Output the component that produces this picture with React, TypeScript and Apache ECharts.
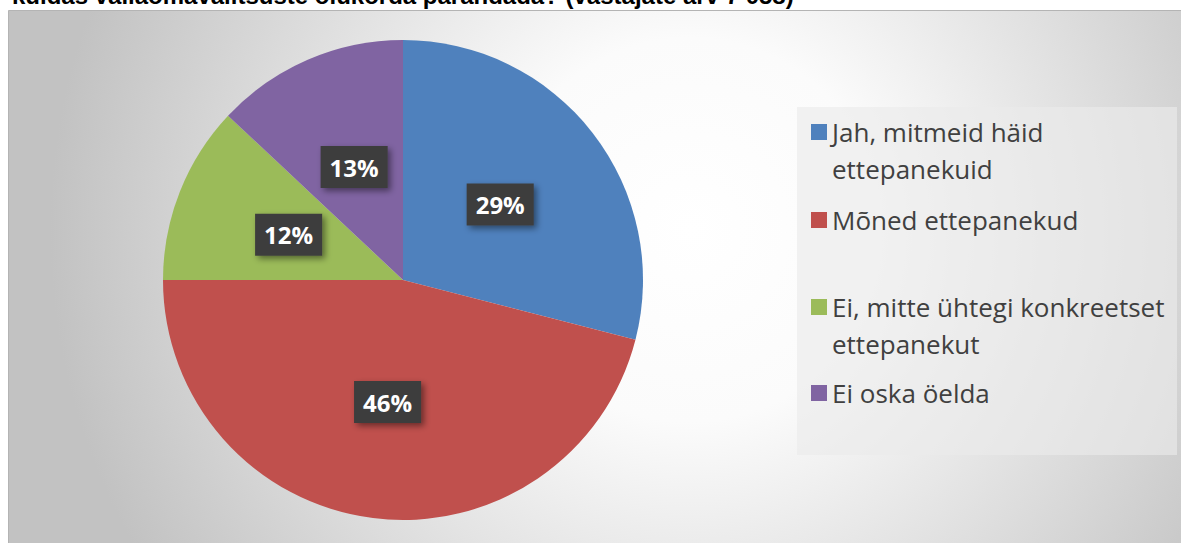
import React, { useEffect, useRef } from "react";
import * as echarts from "echarts";

const titleText = "kuidas vallaomavalitsuste olukorda parandada? (vastajate arv 7 058)";
const categories = [
  "Jah, mitmeid häid ettepanekuid",
  "Mõned ettepanekud",
  "Ei, mitte ühtegi konkreetset ettepanekut",
  "Ei oska öelda",
];
const legendLabels = [
  "Jah, mitmeid häid\nettepanekuid",
  "Mõned ettepanekud",
  "Ei, mitte ühtegi konkreetset\nettepanekut",
  "Ei oska öelda",
];
const values = [29, 46, 12, 13];
const colors = ["#4f81bd", "#c0504d", "#9bbb59", "#8064a2"];

const LINE_H = 37;
const markerTops = [124, 212, 299, 385];

export default function App() {
  const ref = useRef<HTMLDivElement>(null);
  useEffect(() => {
    if (!ref.current) return;
    const chart = echarts.init(ref.current, undefined, { renderer: "svg" });

    const legends = categories.map((name, i) => {
      const lines = legendLabels[i].split("\n");
      const extra = lines.length - 1;
      // pad with blank lines above so that the first line sits beside the marker
      const shown = Array(extra).fill(" ").concat(lines).join("\n");
      const totalLines = lines.length + extra;
      const offset = (totalLines * LINE_H) / 2 - 8;
      return {
        orient: "vertical",
        left: 811,
        top: markerTops[i] - offset,
        padding: 0,
        itemWidth: 16,
        itemHeight: 16,
        icon: "rect",
        selectedMode: false,
        data: [{ name, itemStyle: { color: colors[i] } }],
        formatter: () => shown,
        textStyle: {
          fontFamily: "Open Sans",
          fontSize: 26,
          lineHeight: LINE_H,
          color: "#404040",
        },
      };
    });

    chart.setOption({
      animation: false,
      graphic: [
        {
          type: "rect",
          z: -10,
          silent: true,
          shape: { x: 8.5, y: 10.5, width: 1180, height: 540 },
          style: {
            fill: new echarts.graphic.RadialGradient(
              690,
              230,
              640,
              [
                { offset: 0, color: "#ffffff" },
                { offset: 0.3, color: "#fbfbfb" },
                { offset: 1, color: "#c2c2c2" },
              ],
              true
            ),
            stroke: "#b4b4b4",
            lineWidth: 1,
          },
        },
        {
          type: "rect",
          z: -5,
          silent: true,
          shape: { x: 797, y: 107, width: 380, height: 348 },
          style: { fill: "rgba(234,234,234,0.64)" },
        },
        {
          type: "text",
          x: 12,
          y: -5,
          style: {
            text: titleText,
            fontFamily: "Liberation Sans",
            fontWeight: "bold",
            fontSize: 24,
            fill: "#000000",
            verticalAlign: "middle",
            align: "left",
          },
        },
      ],
      legend: legends,
      series: [
        {
          type: "pie",
          center: [403, 280],
          radius: 240,
          startAngle: 90,
          clockwise: true,
          avoidLabelOverlap: false,
          emphasis: { disabled: true },
          itemStyle: { borderWidth: 0 },
          label: {
            show: true,
            position: "inside",
            formatter: "{c}%",
            color: "#ffffff",
            fontFamily: "Open Sans",
            fontWeight: "bold",
            fontSize: 24,
            lineHeight: 28,
            backgroundColor: "#3d3d3d",
            padding: [7, 9, 7, 9],
            shadowColor: "rgba(0,0,0,0.45)",
            shadowBlur: 6,
            shadowOffsetX: 3,
            shadowOffsetY: 3,
          },
          labelLine: { show: false },
          data: categories.map((name, i) => ({
            name,
            value: values[i],
            itemStyle: { color: colors[i] },
          })),
        },
      ],
    });
    return () => chart.dispose();
  }, []);
  return (
    <div
      ref={ref}
      style={{ position: "absolute", left: 0, top: 0, width: 1181, height: 543 }}
    />
  );
}
